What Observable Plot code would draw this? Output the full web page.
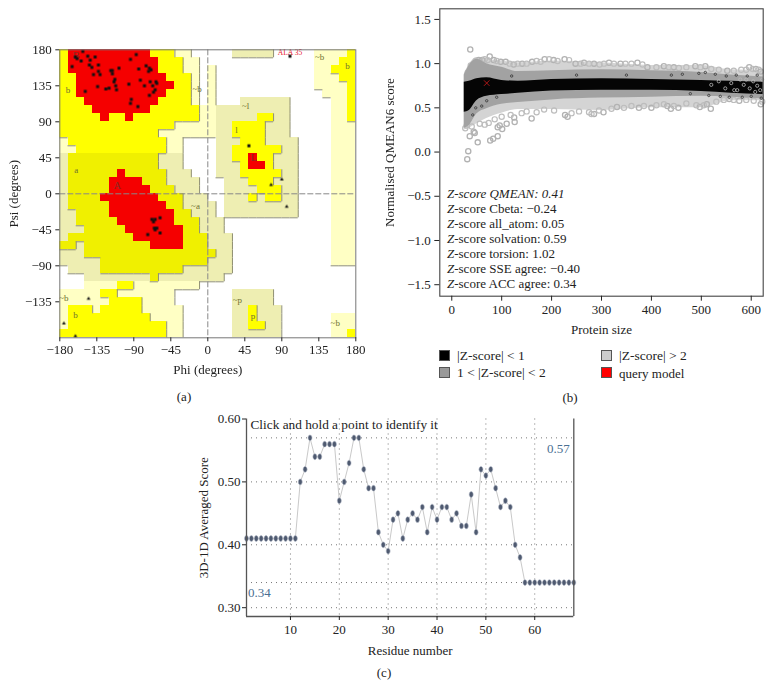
<!DOCTYPE html>
<html><head><meta charset="utf-8">
<script src="https://cdn.jsdelivr.net/npm/d3@7"></script>
<script src="https://cdn.jsdelivr.net/npm/@observablehq/plot@0.6"></script>
<style>
html,body{margin:0;padding:0;background:#fff}
#page{position:relative;width:772px;height:698px;overflow:hidden;font-family:"Liberation Serif",serif;color:#222}
#page svg{position:absolute}
#page svg g[aria-label="rect"],#page svg g[aria-label="area"],#page svg g[aria-label="dot"]{filter:blur(.45px)}
.t{position:absolute;white-space:nowrap;font-size:13px;line-height:1}
.sw{position:absolute;width:11px;height:11px;box-sizing:border-box;border:1px solid #555}
</style></head><body><div id="page"></div>
<script>
// ---------- panel (a): Ramachandran regions, rows are [psiTop, psiBottom, phiFrom, phiTo]
const ramaPale = [[180,170,-40,-20],[170,150,-30,-10],[150,110,-20,-10],[160,70,0,10],[110,70,-10,0],[90,80,-40,-10],[80,70,-60,-10],[70,50,-50,-30],[70,60,-180,-170],[60,50,-180,-160],
  [180,130,130,180],[130,120,140,180],[120,-90,150,180],[-150,-180,150,180],
  [-110,-120,-150,-10],[-120,-140,-180,-40],[-140,-180,-180,-30]];
const ramaPaleDark = [[50,-20,-180,-170],[-20,-40,-180,-160],[-40,-80,-180,-150],[-80,-90,-180,-130],[-90,-100,-170,-130],
  [50,30,-60,-30],[30,20,-50,-20],[20,10,-50,-10],[10,0,-40,-10],[0,-10,-30,0],[-10,-20,-30,10],[-20,-30,-20,10],[-30,-50,-10,20],[-50,-100,0,30],[-90,-100,-30,0],[-100,-110,-150,-70],[-100,-110,-60,20],
  [180,170,30,80],[120,110,40,100],[110,70,10,100],[70,20,10,110],[20,-30,20,110],[-120,-140,30,80],[-140,-180,30,90]];
const ramaYellow = [[180,170,-180,-40],[170,150,-180,-30],[150,110,-180,-20],[110,90,-180,-10],[90,80,-180,-40],[80,70,-180,-60],[70,60,-170,-50],[60,50,-160,-50],
  [100,90,60,80],[90,70,30,70],[70,60,40,70],[60,50,30,90],[50,40,30,80],[40,30,40,80],[30,20,40,90],[20,10,50,80],[10,0,60,90],[0,-10,50,60],[0,-10,70,90],
  [180,90,170,180],[170,140,160,170],[160,150,150,160],[-170,-180,170,180],
  [-110,-120,-110,-90],[-120,-130,-130,-110],[-130,-140,-120,-80],[-140,-150,-170,-140],[-140,-150,-130,-80],[-150,-160,-170,-70],[-160,-170,-170,-50],[-170,-180,-180,-50],
  [-140,-160,50,60],[-160,-170,50,70]];
const ramaYellowDark = [[50,30,-170,-60],[30,10,-170,-50],[10,0,-170,-40],[0,-20,-170,-30],[-20,-30,-160,-20],[-30,-40,-160,-10],[-40,-50,-150,-10],[-50,-60,-170,0],[-60,-70,-180,-160],[-60,-70,-150,0],[-70,-80,-150,10],[-80,-90,-130,0],[-90,-100,-130,-30],[-100,-110,-70,-60]];
const ramaRed = [[180,170,-170,-70],[170,150,-170,-60],[150,140,-160,-50],[140,130,-160,-40],[130,120,-160,-50],[120,110,-150,-60],[110,100,-140,-70],[100,90,-130,-120],[100,90,-100,-90],
  [30,20,-110,-100],[20,10,-120,-80],[10,0,-120,-70],[0,-10,-130,-60],[-10,-20,-120,-50],[-20,-30,-120,-40],[-30,-40,-110,-40],[-40,-50,-100,-30],[-50,-60,-90,-30],[-60,-70,-70,-30],
  [50,40,50,60],[40,30,50,70]];
const residuesSquare = [[-152,178],[-161,171],[-159,169],[-146,172],[-137,171],[-154,166],[-143,167],[-165,159],[-144,161],[-141,158],[-133,161],[-139,149],[-133,153],[-131,149],[-87,174],[-94,168],[-75,160],[-84,156],[-108,157],[-118,154],[-116,154],[-116,150],[-71,157],[-69,155],[-72,153],[-113,143],[-114,140],[-112,135],[-111,130],[-149,128],[-134,134],[-124,131],[-120,132],[-96,137],[-82,142],[-77,135],[-70,140],[-67,135],[-63,140],[-62,138],[-64,130],[-66,127],[-71,123],[-93,118],[-94,113],[-85,109],
  [-68,-32],[-64,-32],[-58,-30],[-66,-35],[-65,-43],[-64,-45],[-62,-43],[-58,-49],[-73,-51],[50,60],[100,172]];
const residuesTriangle = [[90,18],[77,11],[96,-16],[-145,-131],[-175,-162],[-161,-178]];
const ramaLabels = [["b",-170,130],["a",-160,29],["~b",-13,131],["~l",46,110],["l",35,80],["~a",-15,-16],["~p",36,-133],["p",55,-153],["b",-161,-152],["~b",-175,-131],["~b",136,171],["b",170,160],["~b",155,-162]];
const ramaCoreLabels = [["B",-160,173],["A",-110,10],["L",56,45]];
const ramaTicksX = [-180,-135,-90,-45,0,45,90,135,180];
const ramaTicksY = [-135,-90,-45,0,45,90,135,180];

// ---------- panel (b): envelope of the cloud, read at these sizes
const cloudSizes  = [25,35,50,70,100,133,200,300,400,500,560,624];
const blackUpper  = [.79,.80,.83,.84,.81,.80,.82,.83,.82,.81,.80,.79];
const blackLower  = [.45,.47,.58,.63,.65,.665,.69,.70,.70,.685,.665,.65];
const greyUpper   = [.87,.98,1.05,1.0,.96,.91,.92,.93,.92,.90,.87,.85];
const greyLower   = [.27,.30,.43,.49,.54,.56,.59,.61,.62,.63,.62,.60];
const lightUpper  = [.88,.99,1.07,1.05,1.03,1.01,1.03,1.01,.98,.98,.93,.92];
const lightLower  = [.25,.27,.32,.38,.44,.48,.48,.47,.50,.50,.58,.58];
const ringsOuter = [[37,1.16],[33,.01],[31,-.08],[52,.11],[77,.13],[83,.15],[92,.18],[36,.18],[46,.215],[44,.23],[92,.28],[101,.26],[96,.30],[110,.32],[126,.34],[125,.39],[160,.38],
  [76,1.08],[61,1.04],[54,1.04],[98,1.02],[108,1.02],[84,1.04],[124,.99],[141,1.0],[161,1.02],[186,1.05],[204,1.04],[226,1.05],[248,1.0],[265,1.01],[285,1.0],[315,1.01],[338,1.0],[372,1.01],[392,.96],[425,.97],[445,.96],[488,.97],[508,.97],[552,.92],[596,.96],[609,.94],[619,.91],
  [227,.42],[232,.40],[285,.43],[304,.45],[331,.51],[375,.50],[400,.50],[432,.52],[439,.49],[454,.5],[497,.51],[511,.54],[519,.49],[556,.60],[576,.58],[619,.54]];
const ringsUpper = [[32,.90],[38,.98],[44,1.0],[48,1.03],[66,1.05],[72,1.04],[90,1.03],[116,1.0],[132,1.0],[150,1.0],[170,1.03],[178,1.02],[195,1.05],[212,1.03],[235,1.04],[258,1.0],[275,1.0],[296,.99],[305,1.0],[325,1.0],[348,1.0],[360,1.0],[382,.99],[410,.96],[435,.96],[455,.95],[470,.96],[498,.96],[520,.94],[535,.93],[565,.92],[580,.93],[590,.93],[603,.94],[615,.93]];
const ringsLower = [[27,.27],[30,.30],[40,.29],[56,.32],[66,.31],[74,.33],[86,.37],[100,.40],[118,.42],[140,.44],[150,.46],[170,.45],[185,.48],[205,.47],[240,.44],[255,.46],[275,.45],[280,.43],[295,.47],[320,.49],[345,.50],[360,.52],[385,.52],[410,.53],[425,.54],[445,.52],[470,.55],[490,.53],[505,.53],[530,.57],[545,.59],[565,.59],[590,.59],[605,.58],[622,.57]];
const specksRight = [[520,.76],[535,.80],[548,.72],[560,.78],[572,.70],[585,.76],[590,.82],[597,.72],[604,.80],[612,.75],[618,.70],[622,.82],[608,.68],[578,.82],[566,.70]];
const specksBlack = [[440,.87],[462,.88],[478,.66],[495,.89],[508,.90],[515,.64],[528,.88],[538,.63],[550,.86],[556,.62],[570,.87],[582,.62],[592,.86],[600,.63],[612,.87],[620,.61],[60,.52],[48,.50],[70,.58],[42,.42],[90,.62],[120,.86],[250,.87],[350,.87]];
const queryModel = [[70,.78]];
const zScoreLines = [["Z-score QMEAN: 0.41",true],["Z-score Cbeta: −0.24",false],["Z-score all_atom: 0.05",false],["Z-score solvation: 0.59",false],["Z-score torsion: 1.02",false],["Z-score SSE agree: −0.40",false],["Z-score ACC agree: 0.34",false]];
const legendItems = [["|Z-score| < 1","#000",439,350],["1 < |Z-score| < 2","#999",439,367],["|Z-score| > 2","#ccc",601,350],["query model","#f00",601,367]];

// ---------- panel (c)
const residueScores = [.41,.41,.41,.41,.41,.41,.41,.41,.41,.41,.41,.50,.52,.57,.54,.54,.56,.56,.56,.47,.50,.53,.57,.57,.52,.49,.49,.42,.40,.39,.44,.45,.41,.44,.45,.44,.46,.42,.46,.44,.46,.46,.44,.45,.43,.43,.48,.42,.52,.51,.52,.49,.46,.47,.46,.40,.38,.34,.34,.34,.34,.34,.34,.34,.34,.34,.34,.34];
const residueTicks = [10,20,30,40,50,60];
const scoreTicks = [.30,.40,.50,.60];
const scoreGrid = [.30,.34,.40,.50,.57];

const page = document.getElementById("page");
const baseStyle = {background:"transparent",fontFamily:"'Liberation Serif',serif",fontSize:"13px",color:"#222",overflow:"visible"};
function put(svg,l,t){svg.style.left=l+"px";svg.style.top=t+"px";page.appendChild(svg);}
function txt(s,x,y,o={}){const e=document.createElement("div");e.className="t";e.innerHTML=s;e.style.left=x+"px";e.style.top=y+"px";if(o.center)e.style.transform="translate(-50%,-50%)";else e.style.transform="translateY(-50%)";if(o.size)e.style.fontSize=o.size+"px";page.appendChild(e);return e;}

// rank grid for the contour edges
const rank = Array.from({length:36},()=>new Array(36).fill(0));
function mark(rows,r){for(const [a,b,p,q] of rows)for(let i=(p+180)/10;i<(q+180)/10;i++)for(let j=(180-a)/10;j<(180-b)/10;j++)rank[i][j]=r;}
mark(ramaPale,1);mark(ramaPaleDark,1);mark(ramaYellow,2);mark(ramaYellowDark,2);mark(ramaRed,2);
const edgesV=[],edgesH=[];
for(let i=0;i<36;i++)for(let j=0;j<36;j++){const r=rank[i][j];if(!r)continue;
  if(i<35&&rank[i+1][j]<r)edgesV.push({x:(i+1)*10-180,y1:180-j*10,y2:170-j*10});
  if(j<35&&rank[i][j+1]<r)edgesH.push({y:170-j*10,x1:i*10-180,x2:(i+1)*10-180});}
const rectOf=(rows,fill)=>Plot.rect(rows,{x1:d=>d[2],x2:d=>d[3],y1:d=>d[1],y2:d=>d[0],fill,shapeRendering:"crispEdges"});

put(Plot.plot({width:380,height:410,marginLeft:59.3,marginRight:24.7,marginTop:49.3,marginBottom:72.7,style:baseStyle,
  x:{domain:[-180,180]},y:{domain:[-180,180]},
  marks:[
    rectOf(ramaPale,"#ffffc4"),rectOf(ramaPaleDark,"#eeeeb2"),rectOf(ramaYellow,"#ffff00"),rectOf(ramaYellowDark,"#f0f000"),rectOf(ramaRed,"#f50000"),
    Plot.ruleX(edgesV,{x:"x",y1:"y1",y2:"y2",stroke:"#8f8f70",strokeWidth:1}),
    Plot.ruleY(edgesH,{y:"y",x1:"x1",x2:"x2",stroke:"#8f8f70",strokeWidth:1}),
    Plot.ruleX([0],{stroke:"#888",strokeDasharray:"6 2",strokeWidth:1}),
    Plot.ruleY([0],{stroke:"#888",strokeDasharray:"6 2",strokeWidth:1}),
    Plot.text(ramaLabels,{x:d=>d[1],y:d=>d[2],text:d=>d[0],fontSize:9,fill:"#6e7030"}),
    Plot.text(ramaCoreLabels,{x:d=>d[1],y:d=>d[2],text:d=>d[0],fontSize:10.5,fill:"#8a2a20"}),
    Plot.text([[100,177]],{x:d=>d[0],y:d=>d[1],text:()=>"ALA 35",fontSize:7.5,fill:"#e8142a"}),
    Plot.dot(residuesSquare,{x:d=>d[0],y:d=>d[1],symbol:"square",r:1.7,fill:"#111"}),
    Plot.dot(residuesTriangle,{x:d=>d[0],y:d=>d[1],symbol:"triangle",r:1.4,fill:"#111"}),
    Plot.frame({stroke:"#777"}),
    Plot.axisX(ramaTicksX,{tickSize:4,tickPadding:3,fontSize:13,label:"Phi (degrees)",labelAnchor:"center",labelArrow:"none",labelOffset:36,tickFormat:d3.format("d")}),
    Plot.axisY(ramaTicksY,{tickSize:4,tickPadding:4,fontSize:13,label:"Psi (degrees)",labelAnchor:"center",labelArrow:"none",labelOffset:51,tickFormat:d3.format("d")})
  ]}),0,0);

const cloud = cloudSizes.map((s,i)=>({s,bu:blackUpper[i],bl:blackLower[i],gu:greyUpper[i],gl:greyLower[i],lu:lightUpper[i],ll:lightLower[i]}));
const ring=(arr,o)=>Plot.dot(arr,{x:d=>d[0],y:d=>d[1],fill:"none",...o});
put(Plot.plot({width:392,height:345,marginLeft:59.3,marginRight:9.3,marginTop:8.3,marginBottom:49.3,style:baseStyle,
  x:{domain:[-24,624]},y:{domain:[-1.63,1.62]},
  marks:[
    Plot.areaY(cloud,{x:"s",y1:"ll",y2:"lu",fill:"#d4d4d4",curve:"monotone-x"}),
    ring(ringsOuter,{r:2.6,stroke:"#b2b2b2",strokeWidth:1.3}),
    ring(ringsUpper,{r:2.6,stroke:"#bdbdbd",strokeWidth:1.2}),
    ring(ringsLower,{r:2.6,stroke:"#bdbdbd",strokeWidth:1.2}),
    Plot.areaY(cloud,{x:"s",y1:"gl",y2:"gu",fill:"#a2a2a2",curve:"monotone-x"}),
    Plot.areaY(cloud,{x:"s",y1:"bl",y2:"bu",fill:"#050505",curve:"monotone-x"}),
    ring(specksBlack,{r:1.2,stroke:"#333",strokeWidth:.8}),
    ring(specksRight,{r:1.6,stroke:"#bbb",strokeWidth:.8}),
    Plot.dot(queryModel,{x:d=>d[0],y:d=>d[1],symbol:"times",r:2.6,stroke:"#b01818",strokeWidth:1}),
    Plot.frame({stroke:"#444",strokeWidth:1.1}),
    Plot.axisX([0,100,200,300,400,500,600],{tickSize:5,tickPadding:4,fontSize:13,label:"Protein size",labelAnchor:"center",labelArrow:"none",labelOffset:38,tickFormat:d3.format("d")}),
    Plot.axisY([-1.5,-1,-.5,0,.5,1,1.5],{tickSize:5,tickPadding:4,fontSize:13,label:"Normalised QMEAN6 score",labelAnchor:"center",labelArrow:"none",labelOffset:55,tickFormat:d3.format(".1f")})
  ]}),380,0);

zScoreLines.forEach(([s,it],i)=>{const h=it?`<i>${s}</i>`:s.replace("Z-score","<i>Z</i>-score");txt(h,447,193+i*15);});
legendItems.forEach(([s,c,x,y])=>{const e=document.createElement("div");e.className="sw";e.style.cssText=`left:${x}px;top:${y}px;background:${c}`;page.appendChild(e);txt(s,x+18,y+5.5,{size:s[0]==="q"?13:13.5});});

const ovalDot = {draw(c){const rx=2,ry=2.9,kx=rx*.5523,ky=ry*.5523;c.moveTo(0,-ry);c.bezierCurveTo(kx,-ry,rx,-ky,rx,0);c.bezierCurveTo(rx,ky,kx,ry,0,ry);c.bezierCurveTo(-kx,ry,-rx,ky,-rx,0);c.bezierCurveTo(-rx,-ky,-kx,-ry,0,-ry);c.closePath();}};
const residues = residueScores.map((v,i)=>({n:i+1,v}));
put(Plot.plot({width:400,height:260,marginLeft:56,marginRight:16.7,marginTop:13.5,marginBottom:49,style:baseStyle,
  x:{domain:[1,68]},y:{domain:[.286,.60]},
  marks:[
    Plot.ruleY(scoreGrid,{stroke:"#777",strokeDasharray:"1 4"}),
    Plot.ruleX(residueTicks,{stroke:"#777",strokeDasharray:"1 4"}),
    Plot.lineY(residues,{x:"n",y:"v",stroke:"#c9c9c9",strokeWidth:1}),
    Plot.dot(residues,{x:"n",y:"v",symbol:ovalDot,fill:"#4f5a70",stroke:"#b8c0cc",strokeWidth:.6}),
    Plot.ruleX([1,68],{stroke:"#555",strokeWidth:1.3}),
    Plot.ruleY([.286],{stroke:"#555",strokeWidth:1.3}),
    Plot.axisX(residueTicks,{tickSize:4,tickPadding:4,fontSize:13,label:"Residue number",labelAnchor:"center",labelArrow:"none",labelOffset:38,tickFormat:d3.format("d")}),
    Plot.axisY(scoreTicks,{tickSize:4,tickPadding:2,fontSize:13,label:"3D-1D Averaged Score",labelAnchor:"center",labelArrow:"none",labelOffset:48,tickFormat:d3.format(".2f")})
  ]}),190,405);

txt("Click and hold a point to identify it",250.5,425,{size:13.3});
txt('<span style="color:#4a6f92">0.57</span>',547,448);
txt('<span style="color:#4a6f92">0.34</span>',248,592);
txt("(a)",184,396,{center:true});
txt("(b)",570,397,{center:true});
txt("(c)",384,672,{center:true});
</script></body></html>
